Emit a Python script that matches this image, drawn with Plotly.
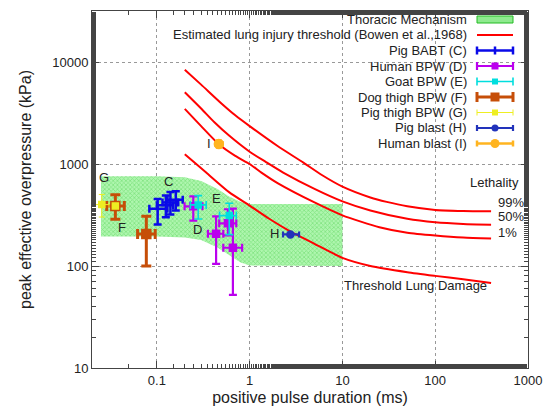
import numpy as np
import plotly.graph_objects as go

# ---------------- data ----------------
# Thoracic mechanism band
band_x = [0.025, 0.1, 0.2, 0.3, 0.45, 0.6, 0.8, 1.0, 2.0, 10.0]
band_hi = [760, 760, 740, 680, 570, 480, 425, 405, 405, 405]
band_lo = [195, 195, 190, 180, 152, 127, 108, 101, 100, 100]

# Bowen et al. 1968 curves
bow_x99 = [0.2, 0.3, 0.5, 0.7, 1, 2, 3.8, 6, 10, 20, 30, 50, 100, 200, 400]
bow_y99 = [8400, 6000, 3900, 3000, 2350, 1500, 1030, 780, 600, 470, 425, 385, 355, 347, 345]
bow_x50 = [0.2, 0.3, 0.42, 0.6, 1, 1.5, 2.3, 5, 10, 20, 50, 100, 200, 400]
bow_y50 = [5050, 3500, 2550, 1900, 1320, 1045, 824, 570, 430, 350, 290, 268, 258, 254]
bow_x01 = [0.2, 0.3, 0.466, 0.7, 1, 1.34, 2, 5, 10, 25, 50, 100, 200, 400]
bow_y01 = [3470, 2350, 1560, 1200, 1000, 824, 650, 420, 314, 240, 212, 199, 190, 186]
bow_xth = [0.2, 0.34, 0.6, 1, 1.64, 2.7, 5, 10, 20, 50, 100, 200, 400]
bow_yth = [1245, 824, 530, 391, 289, 220, 165, 120, 100, 87, 80, 74, 68]

# Pig BABT (C)
C_x = [0.102, 0.125, 0.14, 0.16]
C_y = [365, 395, 420, 445]
C_xlo = [0.083, 0.10, 0.115, 0.13]
C_xhi = [0.13, 0.15, 0.17, 0.19]
C_ylo = [255, 300, 320, 350]
C_yhi = [455, 490, 530, 540]

# Human BPW (D)
D_x = [0.247, 0.435, 0.583, 0.66]
D_y = [385, 207, 262, 151]
D_xlo = [0.199, 0.355, 0.47, 0.52]
D_xhi = [0.31, 0.52, 0.718, 0.83]
D_ylo = [278, 105, 200, 52]
D_yhi = [481, 307, 360, 365]

# Goat BPW (E)
E_x = [0.279, 0.603]
E_y = [397, 312]
E_xlo = [0.23, 0.474]
E_xhi = [0.34, 0.718]
E_ylo = [289, 203]
E_yhi = [490, 412]

# Dog thigh BPW (F)
F_x = [0.0357, 0.077]
F_y = [388, 206]
F_xlo = [0.0288, 0.062]
F_xhi = [0.0446, 0.096]
F_ylo = [287, 100]
F_yhi = [500, 308]

# Pig thigh BPW (G)
G_x = [0.0255, 0.0357]
G_y = [400, 388]
G_xlo = [0.0195, 0.0357]
G_xhi = [0.0305, 0.0357]
G_ylo = [302, 388]
G_yhi = [503, 388]

# Pig blast (H)
H_x = [2.75]
H_y = [204]
H_xlo = [2.29]
H_xhi = [3.41]
H_ylo = [197]
H_yhi = [211]

# Human blast (I)
I_x = [0.466]
I_y = [1570]
I_xlo = [0.43]
I_xhi = [0.51]
I_ylo = [1450]
I_yhi = [1700]

# point labels
lab_text = ["G", "F", "C", "E", "D", "H", "I"]
lab_x = [0.0271, 0.0424, 0.134, 0.437, 0.277, 1.86, 0.363]
lab_y = [736, 240, 670, 460, 228, 210, 1590]

x_ticks = [0.1, 1, 10, 100, 1000]
y_ticks = [10, 100, 1000, 10000]

FONT = "Liberation Sans, Arial, sans-serif"
TXT = "#222222"

# plot-area geometry (pixels) used for layout items
W, H = 546, 410
ML, MR, MT, MB = 92, 18, 11, 42
PW, PH = W - ML - MR, H - MT - MB


def px(x):
    return (x - ML) / PW


def py(y):
    return (H - MB - y) / PH


def note(x, y, text, xanchor="center", xref="paper", yref="paper"):
    fig.add_annotation(xref=xref, yref=yref, x=x, y=y, xanchor=xanchor, yanchor="middle",
                       text=text, showarrow=False, font=dict(family=FONT, size=13, color=TXT))


fig = go.Figure()

BAND_FILL = "rgba(140,235,140,0.9)"
BAND_PAT = dict(shape="x", fgcolor="#55d055", bgcolor="rgba(165,245,165,0.9)", size=3, solidity=0.45)

# band
fig.add_trace(go.Scatter(
    x=band_x + band_x[::-1], y=band_hi + band_lo[::-1],
    fill="toself", mode="lines", line=dict(width=0, color="#33cc33"),
    fillcolor=BAND_FILL, fillpattern=BAND_PAT,
    name="Thoracic Mechanism", showlegend=False))

# Bowen curves
for bx, by in [(bow_xth, bow_yth), (bow_x01, bow_y01), (bow_x50, bow_y50), (bow_x99, bow_y99)]:
    fig.add_trace(go.Scatter(
        x=bx, y=by, mode="lines", line=dict(color="#ff0000", width=2, shape="spline", smoothing=0.6),
        name="Estimated lung injury threshold (Bowen et al.,1968)", showlegend=False))


def err_trace(name, xs, ys, xlo, xhi, ylo, yhi, color, thick, cap, symbol, msize):
    return go.Scatter(
        x=xs, y=ys, mode="markers", name=name, showlegend=False,
        marker=dict(color=color, symbol=symbol, size=msize, line=dict(color=color, width=1.5)),
        error_x=dict(type="data", symmetric=False,
                     array=[h - v for h, v in zip(xhi, xs)],
                     arrayminus=[v - l for v, l in zip(xs, xlo)],
                     color=color, thickness=thick, width=cap),
        error_y=dict(type="data", symmetric=False,
                     array=[h - v for h, v in zip(yhi, ys)],
                     arrayminus=[v - l for v, l in zip(ys, ylo)],
                     color=color, thickness=thick, width=cap))


series = [
    ("Pig BABT (C)", C_x, C_y, C_xlo, C_xhi, C_ylo, C_yhi, "#0a0ae8", 2.5, 4, "cross-thin-open", 7, "plus"),
    ("Human BPW (D)", D_x, D_y, D_xlo, D_xhi, D_ylo, D_yhi, "#bb00ee", 2.2, 4, "square", 7, "square"),
    ("Goat BPW (E)", E_x, E_y, E_xlo, E_xhi, E_ylo, E_yhi, "#00dede", 1.6, 4, "square", 6, "square"),
    ("Dog thigh BPW (F)", F_x, F_y, F_xlo, F_xhi, F_ylo, F_yhi, "#c64e08", 3, 5, "square", 9, "square"),
    ("Pig thigh BPW (G)", G_x, G_y, G_xlo, G_xhi, G_ylo, G_yhi, "#eeee22", 1, 3, "square", 6, "square"),
    ("Pig blast (H)", H_x, H_y, H_xlo, H_xhi, H_ylo, H_yhi, "#2233bb", 2.2, 3, "circle", 7, "circle"),
    ("Human blast (I)", I_x, I_y, I_xlo, I_xhi, I_ylo, I_yhi, "#ffb420", 2.5, 3, "circle", 9, "circle"),
]
for s in series:
    fig.add_trace(err_trace(*s[:12]))

for t, x, y in zip(lab_text, lab_x, lab_y):
    note(np.log10(x), np.log10(y), t, xref="x", yref="y")

# right-hand curve labels
note(px(521), py(183), "Lethality", xanchor="right")
for t, yy in [("99%", 202), ("50%", 217), ("1%", 232)]:
    note(px(496), py(yy), t, xanchor="left")
note(px(415), py(285), "Threshold Lung Damage", xanchor="center")

# ---------- key (gnuplot style: text right-aligned, sample on the right) ----------
shapes = []
# key area hides the grid lines behind it
shapes.append(dict(type="rect", xref="paper", yref="paper", x0=0, x1=1, y0=py(154), y1=1,
                   fillcolor="white", line=dict(width=0), layer="between"))
row0, dy = 19.5, 15.5
s_x0, s_x1 = 477, 513
s_mid = (s_x0 + s_x1) / 2
key_names = ["Thoracic Mechanism", "Estimated lung injury threshold (Bowen et al.,1968)"] + [s[0] for s in series]
for i, name in enumerate(key_names):
    yy = row0 + i * dy
    note(px(469), py(yy), name, xanchor="right")
    if i == 0:
        shapes.append(dict(type="rect", xref="paper", yref="paper", x0=px(s_x0), x1=px(s_x1),
                           y0=py(yy + 3.5), y1=py(yy - 3.5), fillcolor="#8fea8f",
                           line=dict(color="#22bb22", width=1)))
    elif i == 1:
        shapes.append(dict(type="line", xref="paper", yref="paper", x0=px(s_x0), x1=px(s_x1),
                           y0=py(yy), y1=py(yy), line=dict(color="#ff0000", width=2)))
    else:
        s = series[i - 2]
        col, th, cap, ms, kind = s[7], s[8], s[9], s[11], s[12]
        shapes.append(dict(type="line", xref="paper", yref="paper", x0=px(s_x0), x1=px(s_x1),
                           y0=py(yy), y1=py(yy), line=dict(color=col, width=th)))
        for ex in (s_x0, s_x1):
            shapes.append(dict(type="line", xref="paper", yref="paper", x0=px(ex), x1=px(ex),
                               y0=py(yy - cap), y1=py(yy + cap), line=dict(color=col, width=th)))
        r = ms / 2
        if kind == "plus":
            shapes.append(dict(type="line", xref="paper", yref="paper", x0=px(s_mid), x1=px(s_mid),
                               y0=py(yy - 4), y1=py(yy + 4), line=dict(color=col, width=th)))
        elif kind == "square":
            shapes.append(dict(type="rect", xref="paper", yref="paper", x0=px(s_mid - r), x1=px(s_mid + r),
                               y0=py(yy + r), y1=py(yy - r), fillcolor=col, line=dict(color=col, width=0)))
        else:
            shapes.append(dict(type="circle", xref="paper", yref="paper", x0=px(s_mid - r), x1=px(s_mid + r),
                               y0=py(yy + r), y1=py(yy - r), fillcolor=col, line=dict(color=col, width=0)))

axis_common = dict(
    type="log", showline=True, linecolor="#444", linewidth=1, mirror="allticks",
    ticks="inside", ticklen=7, tickcolor="#444",
    showgrid=True, gridcolor="#999", griddash="dot", gridwidth=1,
    zeroline=False, automargin=False, tickfont=dict(family=FONT, size=13, color=TXT),
    minor=dict(ticks="inside", ticklen=4, tickcolor="#444", showgrid=False),
)

fig.update_xaxes(axis_common, range=[np.log10(0.02), 3], tickvals=x_ticks,
                 ticktext=[str(v) for v in x_ticks],
                 title=dict(text="positive pulse duration (ms)", font=dict(family=FONT, size=16, color=TXT), standoff=5))
fig.update_yaxes(axis_common, range=[1, 4.5], tickvals=y_ticks,
                 ticktext=[str(v) for v in y_ticks],
                 title=dict(text="peak effective overpressure (kPa)", font=dict(family=FONT, size=16, color=TXT), standoff=16))

fig.update_layout(
    width=W, height=H,
    margin=dict(l=ML, r=MR, t=MT, b=MB),
    paper_bgcolor="white", plot_bgcolor="white",
    showlegend=False,
    shapes=shapes,
)

fig.write_html("out.html")
